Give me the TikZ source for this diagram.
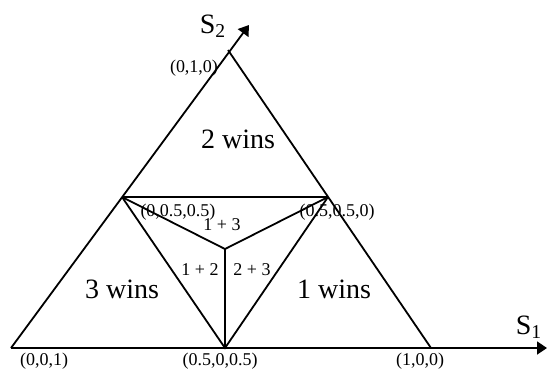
\documentclass[tikz,border=0pt]{standalone}
\usepackage{fontspec}
\setmainfont{Liberation Serif}
\usepackage{tikz}
\usetikzlibrary{
  arrows.meta,
  positioning,
}

\begin{document}
\begin{tikzpicture}[
    x=0.5pt, y=-0.5pt,
    edge/.style={draw=black, line width=0.9pt},
    axis/.style={edge, -{Triangle[length=5pt, width=6.5pt]}},
    region/.style={font=\fontsize{14}{16}\selectfont, inner sep=0pt},
    pointlabel/.style={font=\fontsize{9}{10}\selectfont, inner sep=0pt},
    axislabel/.style={font=\fontsize{14}{16}\selectfont, inner sep=0pt},
  ]
  \useasboundingbox (0,0) rectangle (547,372);

  % corners and midpoints of the simplex
  \coordinate (v3)  at (11,348);
  \coordinate (v1)  at (431,348);
  \coordinate (v2)  at (228,50);
  \coordinate (m23) at (122,197);
  \coordinate (m12) at (328,197);
  \coordinate (m13) at (225,348);
  \coordinate (ctr) at (225,249);
  \coordinate (s1tip) at (547,348);
  \coordinate (s2tip) at (249,25);

  % axes
  \draw[axis] (v3) -- (s1tip);
  \draw[axis] (v3) -- (s2tip);

  \draw[edge] (v2) -- (v1);
  \draw[edge] (m23) -- (m12);
  \draw[edge] (m23) -- (m13) -- (m12);
  \draw[edge] (m23) -- (ctr) -- (m12);
  \draw[edge] (ctr) -- (m13);

  \node[axislabel] (s1) at (529,327) {S\textsubscript{1}};
  \node[axislabel] (s2) at (213,26)  {S\textsubscript{2}};

  \node[pointlabel] (l001) at (44,361)  {(0,0,1)};
  \node[pointlabel] (l050) at (220,361) {(0.5,0,0.5)};
  \node[pointlabel] (l100) at (420,361) {(1,0,0)};
  \node[pointlabel] (l010) at (194,68)  {(0,1,0)};
  \node[pointlabel] (l055) at (178,212) {(0,0.5,0.5)};
  \node[pointlabel] (l550) at (337,212) {(0.5,0.5,0)};

  \node[pointlabel] (p13) at (222,225) {1 + 3};
  \node[pointlabel] (p12) at (200,270) {1 + 2};
  \node[pointlabel] (p23) at (252,270) {2 + 3};

  \node[region] (w2) at (238,139) {2 wins};
  \node[region] (w3) at (122,289) {3 wins};
  \node[region] (w1) at (334,289) {1 wins};
\end{tikzpicture}
\end{document}
